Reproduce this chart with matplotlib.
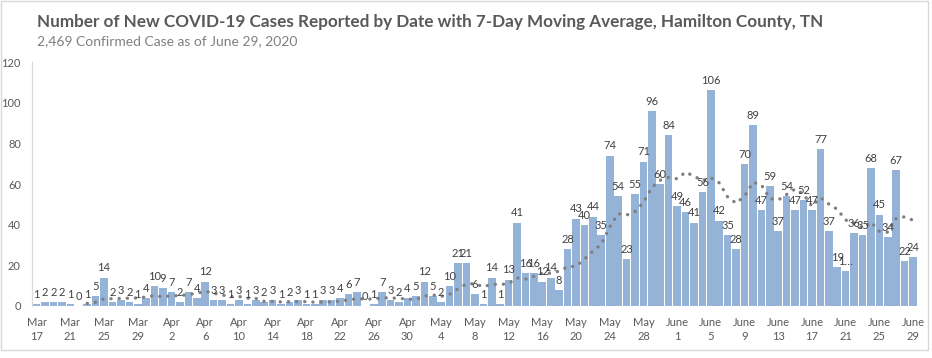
import numpy as np
import pandas as pd
import matplotlib
matplotlib.use("Agg")
import matplotlib.pyplot as plt
from matplotlib.patches import Rectangle

plt.rcParams['font.family'] = ['Lato', 'DejaVu Sans']

# === data ===
dates = pd.date_range("2020-03-17", "2020-06-29", freq="D")
cases = [
    # Mar 17 - Mar 31
    1, 2, 2, 2, 1, 0, 1, 5, 14, 2, 3, 2, 1, 4, 10,
    # Apr
    9, 7, 2, 7, 4, 12, 3, 3, 1, 3, 1, 3, 2, 3, 1,
    2, 3, 1, 1, 3, 3, 4, 6, 7, 0, 1, 7, 3, 2, 4,
    # May
    5, 12, 5, 2, 10, 21, 21, 6, 1, 14, 1, 13, 41, 16, 16, 12,
    14, 8, 28, 43, 40, 44, 35, 74, 54, 23, 55, 71, 96, 60, 84,
    # June 1 - 29
    49, 46, 41, 56, 106, 42, 35, 28, 70, 89, 47, 59, 37, 54, 47,
    52, 47, 77, 37, 19, 17, 36, 35, 68, 45, 34, 67, 22, 24,
]
month_names = {3: "Mar", 4: "Apr", 5: "May", 6: "June"}
truncated = {"2020-06-21": "1\u2026"}   # label cut off in the original

title = "Number of New COVID-19 Cases Reported by Date with 7-Day Moving Average, Hamilton County, TN"
subtitle = "2,469 Confirmed Case as of June 29, 2020"

s = pd.Series(cases, index=dates)
ma7 = s.rolling(7).mean()
x = np.arange(len(s))

# === figure ===
fig = plt.figure(figsize=(9.32, 3.58), dpi=100)
ax = fig.add_axes([32 / 932, 1 - 306 / 358, (919 - 32) / 932, (306 - 62) / 358])

ax.bar(x, s.values, width=0.9, color="#95b3d7", edgecolor="none", zorder=2)
ax.plot(x, ma7.values, color="#7f7f7f", linestyle=(0, (0.05, 2.4)), linewidth=2.4,
        dash_capstyle="round", zorder=3)

for xi, d, v in zip(x, dates, s.values):
    txt = truncated.get(d.strftime("%Y-%m-%d"), str(v))
    ax.annotate(txt, (xi, v), xytext=(0, 3), textcoords="offset points",
                ha="center", va="bottom", fontsize=8, color="#404040", zorder=4)

ax.set_xlim(-0.55, len(s) - 0.3)
ax.set_ylim(0, 120)
ax.set_yticks(range(0, 121, 20))
tick_pos = x[::4]
ax.set_xticks(tick_pos)
ax.set_xticklabels([f"{month_names[dates[i].month]}\n{dates[i].day}" for i in tick_pos],
                   linespacing=1.35)
ax.tick_params(axis="both", length=0, labelsize=8, labelcolor="#595959")
ax.tick_params(axis="x", pad=8)
ax.tick_params(axis="y", pad=8)

for side in ["top", "right", "bottom"]:
    ax.spines[side].set_visible(False)
ax.spines["left"].set_color("#d9d9d9")

fig.text(37 / 932, 1 - 27 / 358, title, fontsize=12.3, fontweight="bold", color="#595959",
         va="baseline", ha="left")
fig.text(37 / 932, 1 - 45 / 358, subtitle, fontsize=10, color="#7f7f7f",
         va="baseline", ha="left")

fig.patches.append(Rectangle((1 / 932, 1 - 350 / 358), 927 / 932, 349 / 358,
                             transform=fig.transFigure, fill=False,
                             edgecolor="#d9d9d9", linewidth=1))

fig.savefig("out.png", dpi=100)
